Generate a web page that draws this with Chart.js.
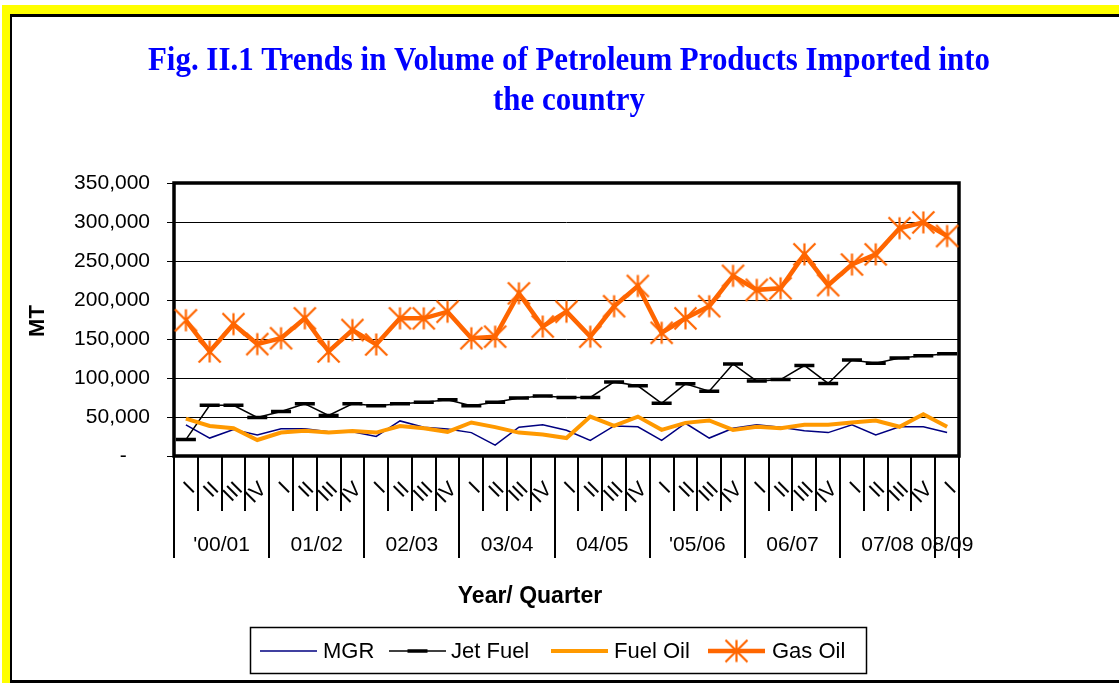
<!DOCTYPE html>
<html>
<head>
<meta charset="utf-8">
<script src="https://cdn.jsdelivr.net/npm/chart.js@4/dist/chart.umd.min.js"></script>
<style>
  html, body { margin: 0; padding: 0; background: #fff; }
  #chart { display: block; }
</style>
</head>
<body>
<canvas id="chart" width="1119" height="683"></canvas>
<script>
// quarters on the x axis, grouped by financial year
const quarters = [
  'I','II','III','IV', 'I','II','III','IV', 'I','II','III','IV', 'I','II','III','IV',
  'I','II','III','IV', 'I','II','III','IV', 'I','II','III','IV', 'I','II','III','IV', 'I'
];
const years = ["'00/01", '01/02', '02/03', '03/04', '04/05', "'05/06", '06/07', '07/08', '08/09'];
const quartersPerYear = [4, 4, 4, 4, 4, 4, 4, 4, 1];

// volumes in MT
const mgr = [
  40000, 23000, 34000, 27000, 35000, 35000, 31000, 31000, 25000, 45000, 37000, 34500,
  30000, 14000, 37000, 40000, 33000, 20000, 38500, 37500, 20000, 42000, 23000, 35500,
  40000, 37000, 32500, 30000, 40000, 27000, 37500, 37500, 30000
];
const jetFuel = [
  21000, 65000, 65000, 49500, 57000, 67000, 52000, 67000, 64500, 67000, 69000, 72000,
  64500, 69000, 74500, 77000, 75000, 75000, 95000, 90000, 67500, 92500, 83000, 118000,
  96000, 98000, 116000, 93000, 123000, 119000, 125500, 128500, 131000
];
const fuelOil = [
  48000, 38500, 35500, 20500, 30000, 32500, 30000, 32000, 30000, 38500, 35500, 31000,
  43000, 37000, 30000, 27500, 23000, 50500, 38500, 50500, 33500, 42500, 45500, 33500,
  37500, 35500, 40000, 40000, 43000, 45500, 37500, 53500, 37500
];
const gasOil = [
  174000, 134000, 169000, 143500, 151000, 176500, 134000, 161500, 143000, 176500, 176500, 185000,
  151000, 153000, 208500, 166000, 185000, 153000, 192000, 218000, 158000, 176500, 192000, 231000,
  213000, 215000, 258500, 219000, 245500, 258500, 292000, 299500, 282000
];

const seriesNames = ['MGR', 'Jet Fuel', 'Fuel Oil', 'Gas Oil'];

// excel style asterisk marker
function makeStar(color, size, lw) {
  const c = document.createElement('canvas');
  c.width = size; c.height = size;
  const g = c.getContext('2d');
  g.strokeStyle = color;
  g.lineWidth = lw;
  const m = size / 2, r = size / 2 - 1.5;
  g.beginPath();
  g.moveTo(m, m - r); g.lineTo(m, m + r);
  g.moveTo(m - r, m - r); g.lineTo(m + r, m + r);
  g.moveTo(m + r, m - r); g.lineTo(m - r, m + r);
  g.stroke();
  return c;
}
const star = makeStar('#FF6600', 25, 2.2);

// page background, frame, title and axis titles
const decorPlugin = {
  id: 'decor',
  beforeDraw(chart) {
    const ctx = chart.ctx;
    ctx.save();
    ctx.fillStyle = '#fff';
    ctx.fillRect(0, 0, 1119, 683);
    ctx.fillStyle = '#FFFF00';
    ctx.fillRect(2, 5, 1117, 678);
    ctx.fillStyle = '#000';
    ctx.fillRect(10, 14, 1109, 669);
    ctx.fillStyle = '#fff';
    ctx.fillRect(12, 17, 1107, 663);

    // title, condensed like the original
    ctx.fillStyle = '#0000FF';
    ctx.font = 'bold 34px "Liberation Serif", "Times New Roman", serif';
    ctx.textAlign = 'center';
    ctx.textBaseline = 'alphabetic';
    const line1 = 'Fig. II.1 Trends in Volume of Petroleum Products Imported into';
    const sx = 842 / ctx.measureText(line1).width;
    ctx.save();
    ctx.translate(569, 0);
    ctx.scale(sx, 1);
    ctx.fillText(line1, 0, 70);
    ctx.fillText('the country', 0, 110);
    ctx.restore();

    // axis titles
    ctx.fillStyle = '#000';
    ctx.font = 'bold 23px "Liberation Sans", Arial, sans-serif';
    ctx.textBaseline = 'middle';
    ctx.fillText('Year/ Quarter', 530, 597);
    ctx.font = 'bold 22px "Liberation Sans", Arial, sans-serif';
    ctx.save();
    ctx.translate(38, 321);
    ctx.rotate(-Math.PI / 2);
    ctx.fillText('MT', 0, 0);
    ctx.restore();
    ctx.restore();
  },
  beforeDatasetsDraw(chart) {
    const {ctx, chartArea: a} = chart;
    ctx.save();
    ctx.strokeStyle = '#000';
    ctx.lineWidth = 3.5;
    ctx.strokeRect(a.left, a.top, a.right - a.left, a.bottom - a.top);
    ctx.restore();
  }
};

// two level category axis: quarter separators, year separators and year labels
const groupAxisPlugin = {
  id: 'groupAxis',
  afterDraw(chart) {
    const ctx = chart.ctx;
    const x = chart.scales.x;
    const base = chart.chartArea.bottom;
    const yearStarts = [0];
    quartersPerYear.forEach(n => yearStarts.push(yearStarts[yearStarts.length - 1] + n));
    ctx.save();
    ctx.strokeStyle = '#000';
    ctx.lineWidth = 2;
    for (let i = 0; i <= quarters.length; i++) {
      const px = Math.round(x.getPixelForValue(i - 0.5));
      const long = yearStarts.includes(i);
      ctx.beginPath();
      ctx.moveTo(px, base);
      ctx.lineTo(px, long ? 558 : 511);
      ctx.stroke();
    }
    ctx.fillStyle = '#000';
    ctx.font = '21px "Liberation Sans", Arial, sans-serif';
    ctx.textAlign = 'center';
    ctx.textBaseline = 'middle';
    years.forEach((yr, k) => {
      const x0 = x.getPixelForValue(yearStarts[k] - 0.5);
      const x1 = x.getPixelForValue(yearStarts[k + 1] - 0.5);
      ctx.fillText(yr, (x0 + x1) / 2, 545);
    });
    ctx.restore();
  }
};

// boxed legend at the bottom
const legendPlugin = {
  id: 'boxLegend',
  afterDraw(chart) {
    const ctx = chart.ctx;
    ctx.save();
    ctx.strokeStyle = '#000';
    ctx.lineWidth = 1.5;
    ctx.strokeRect(250.5, 627.5, 616, 46);
    const items = [
      {lx: 260, tx: 323},
      {lx: 389, tx: 451},
      {lx: 551, tx: 614},
      {lx: 708, tx: 772}
    ];
    const cy = 651;
    ctx.font = '22px "Liberation Sans", Arial, sans-serif';
    ctx.textBaseline = 'middle';
    ctx.textAlign = 'left';
    chart.data.datasets.forEach((ds, i) => {
      const it = items[i];
      ctx.strokeStyle = ds.borderColor;
      ctx.lineWidth = ds.borderWidth;
      ctx.beginPath();
      ctx.moveTo(it.lx, cy);
      ctx.lineTo(it.lx + 57, cy);
      ctx.stroke();
      const mx = it.lx + 28.5;
      if (ds.label === 'Jet Fuel') {
        ctx.lineWidth = ds.pointBorderWidth;
        ctx.beginPath();
        ctx.moveTo(mx - ds.pointRadius, cy);
        ctx.lineTo(mx + ds.pointRadius, cy);
        ctx.stroke();
      } else if (ds.label === 'Gas Oil') {
        ctx.drawImage(star, mx - 12.5, cy - 12.5);
      }
      ctx.fillStyle = '#000';
      ctx.fillText(ds.label, it.tx, cy + 1);
    });
    ctx.restore();
  }
};

new Chart(document.getElementById('chart'), {
  type: 'line',
  data: {
    labels: quarters,
    datasets: [
      {
        label: seriesNames[0], data: mgr, order: 4,
        borderColor: '#000080', borderWidth: 1.5, pointRadius: 0
      },
      {
        label: seriesNames[1], data: jetFuel, order: 3,
        borderColor: '#000000', borderWidth: 1.5,
        pointStyle: 'line', pointRadius: 10, pointBorderWidth: 3.5,
        pointBorderColor: '#000000', pointBackgroundColor: '#000000'
      },
      {
        label: seriesNames[2], data: fuelOil, order: 2,
        borderColor: '#FF9900', borderWidth: 4, pointRadius: 0
      },
      {
        label: seriesNames[3], data: gasOil, order: 1,
        borderColor: '#FF6600', borderWidth: 4.5,
        pointStyle: star, pointRadius: 12
      }
    ]
  },
  options: {
    responsive: false,
    animation: false,
    events: [],
    layout: { padding: { left: 0, top: 183, right: 160, bottom: 167 } },
    plugins: {
      legend: { display: false },
      title: { display: false },
      tooltip: { enabled: false }
    },
    elements: { line: { tension: 0 } },
    scales: {
      x: {
        type: 'category',
        offset: true,
        afterFit(scale) { scale.height = 60; },
        grid: { display: false, drawTicks: false, offset: true },
        border: { display: false },
        ticks: {
          autoSkip: false,
          minRotation: 45,
          maxRotation: 45,
          padding: 21,
          labelOffset: 6,
          color: '#000',
          font: { family: '"Liberation Sans", Arial, sans-serif', size: 21 }
        }
      },
      y: {
        min: 0,
        max: 350000,
        afterFit(scale) { scale.width = 174; },
        grid: { color: '#000', lineWidth: 1, drawTicks: true, tickLength: 7, tickColor: '#000' },
        border: { display: false },
        ticks: {
          stepSize: 50000,
          padding: 17,
          color: '#000',
          font: { family: '"Liberation Sans", Arial, sans-serif', size: 21 },
          callback: v => v === 0 ? '-    ' : v.toLocaleString('en-US')
        }
      }
    }
  },
  plugins: [decorPlugin, groupAxisPlugin, legendPlugin]
});
</script>
</body>
</html>
